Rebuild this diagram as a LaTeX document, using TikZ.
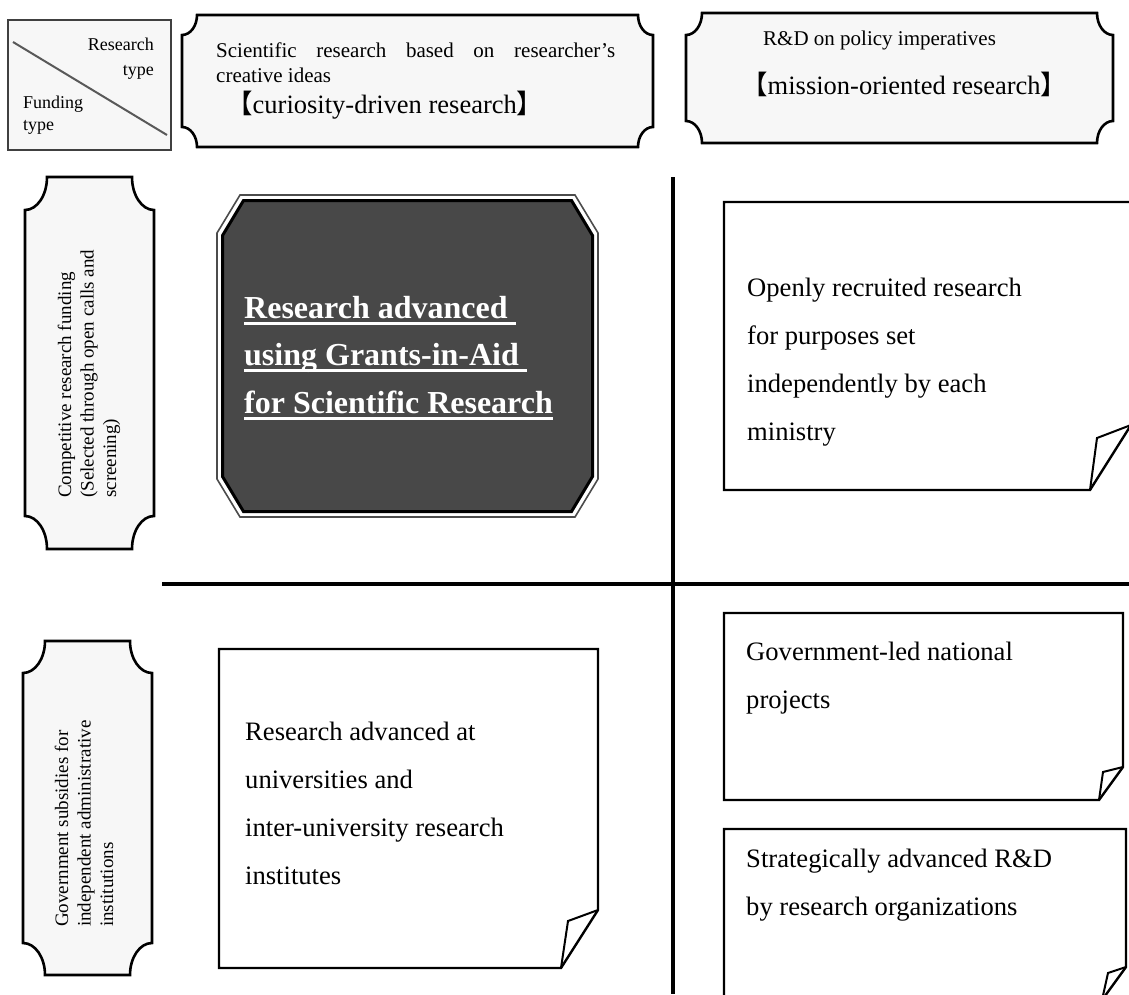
\documentclass[tikz,border=0pt]{standalone}
\usepackage{fontspec}
\setmainfont{Liberation Serif}
\newfontfamily\cjk{Noto Sans CJK JP}
\definecolor{plaquefill}{HTML}{F7F7F7}
\definecolor{darkfill}{HTML}{484848}
% concave-cornered plaque: x1 y1 x2 y2 rx ry
\newcommand\drawplaque[6]{%
  \path[plaquestyle] (#1,#2+#6) .. controls (#1+0.552*#5,#2+#6) and (#1+#5,#2+0.552*#6) .. (#1+#5,#2)
    -- (#3-#5,#2) .. controls (#3-#5,#2+0.552*#6) and (#3-0.552*#5,#2+#6) .. (#3,#2+#6)
    -- (#3,#4-#6) .. controls (#3-0.552*#5,#4-#6) and (#3-#5,#4-0.552*#6) .. (#3-#5,#4)
    -- (#1+#5,#4) .. controls (#1+#5,#4-0.552*#6) and (#1+0.552*#5,#4-#6) .. (#1,#4-#6) -- cycle;}
% octagon: style x1 y1 x2 y2 cx cy
\newcommand\drawocta[7]{%
  \path[#1] (#2+#6,#3) -- (#4-#6,#3) -- (#4,#3+#7) -- (#4,#5-#7) -- (#4-#6,#5)
    -- (#2+#6,#5) -- (#2,#5-#7) -- (#2,#3+#7) -- cycle;}
% dog-ear box: x1 y1 x2 y2 dx dy px py
\newcommand\drawdogear[8]{%
  \path[earbox] (#1,#2) -- (#3,#2) -- (#3,#4-#6) -- (#3-#5,#4) -- (#1,#4) -- cycle;
  \path[earline] (#3-#5,#4) -- (#3-#5+#7,#4-#6+#8) -- (#3,#4-#6);}
\newcommand\myul[1]{\setbox0\hbox{#1}\rlap{\rule[-6.5pt]{\wd0}{2.6pt}}\box0}
\begin{document}
\begin{tikzpicture}[x=1pt,y=-1pt,
  plaquestyle/.style={draw=black,fill=plaquefill,line width=2.6pt},
  earbox/.style={draw=black,fill=white,line width=2.4pt,line join=miter},
  earline/.style={draw=black,line width=2pt,line join=miter},
  divider/.style={draw=black,line width=4pt},
  boxtext/.style={anchor=base west,align=left,inner sep=0pt,font=\fontsize{26.6}{48}\selectfont},
  sidetext/.style={rotate=90,anchor=base west,align=left,inner sep=0pt,font=\fontsize{19}{22.5}\selectfont},
]
\useasboundingbox (0,0) rectangle (1129,994);
\clip (0,0) rectangle (1129,994);
\fill[white] (0,0) rectangle (1129,994);

% header corner box
\draw[fill=plaquefill,draw=black!75,line width=1.4pt] (8,20) rectangle (171,150);
\draw[black!65,line width=2pt] (13,42) -- (167,135);
\node[anchor=base east,align=right,inner sep=0pt,font=\fontsize{18}{25}\selectfont] (rtype) at (154,75) {Research\\type};
\node[anchor=base west,align=left,inner sep=0pt,font=\fontsize{18}{22}\selectfont] (ftype) at (23,130) {Funding\\type};

% column headers
\drawplaque{182}{15}{653}{147}{15}{20}
\node[anchor=base west,text width=399pt,align=justify,inner sep=0pt,font=\fontsize{21}{25}\selectfont] (sci) at (216,57)
  {Scientific research based on researcher’s\linebreak creative ideas};
\node[anchor=base west,inner sep=0pt,font=\fontsize{26.5}{30}\selectfont] (cur) at (226,113)
  {{\cjk 【}curiosity-driven research{\cjk 】}};

\drawplaque{686}{13}{1113}{143}{16}{22}
\node[anchor=base west,inner sep=0pt,font=\fontsize{21}{25}\selectfont] (rdp) at (763,45) {R\&D on policy imperatives};
\node[anchor=base west,inner sep=0pt,font=\fontsize{26.5}{30}\selectfont] (mis) at (741,94)
  {{\cjk 【}mission-oriented research{\cjk 】}};

% row headers
\drawplaque{25}{177}{154}{549}{22}{33}
\node[sidetext] (comp) at (116,498) {Competitive research funding\\(Selected through open calls and\\screening)};
\drawplaque{23}{641}{152}{975}{22}{32}
\node[sidetext] (gov) at (113,927) {Government subsidies for\\independent administrative\\institutions};

% dividers
\draw[divider,line width=3.5pt] (673,177) -- (673,994);
\draw[divider,line width=4.5pt] (162,584) -- (1129,584);

% Grants-in-Aid octagon
\drawocta{draw=black!70,fill=white,line width=1.6pt}{217}{195}{598}{517}{23}{38}
\drawocta{draw=black,fill=darkfill,line width=3pt}{222.5}{200.5}{592.5}{511.5}{21}{35}
\node[anchor=base west,align=left,inner sep=0pt,text=white,font=\fontsize{32}{47.5}\selectfont\bfseries] (kaken) at (244,413)
  {\myul{Research advanced\ }\\\myul{using Grants-in-Aid\ }\\\myul{for Scientific Research}};

% dog-ear boxes
\drawdogear{724}{202}{1131}{490}{41}{65}{7}{13}
\node[boxtext] (open) at (747,440) {Openly recruited research\\for purposes set\\independently by each\\ministry};

\drawdogear{724}{613}{1123}{800}{24}{33}{4}{5}
\node[boxtext] (natl) at (746,708) {Government-led national\\projects};

\drawdogear{724}{829}{1126}{1000}{24}{33}{6}{6}
\node[boxtext] (strat) at (746,915) {Strategically advanced R\&D\\by research organizations};

\drawdogear{219}{649}{598}{968}{37}{58}{7}{11}
\node[boxtext] (univ) at (245,884) {Research advanced at\\universities and\\inter-university research\\institutes};
\end{tikzpicture}
\end{document}
